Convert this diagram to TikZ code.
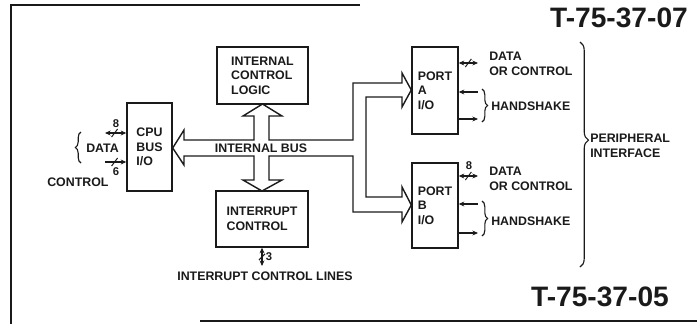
\documentclass[tikz,border=0pt]{standalone}
\usepackage{fontspec}
\setmainfont{Liberation Sans}
\usepackage{tikz}
\usetikzlibrary{arrows.meta, positioning, calc, decorations.pathreplacing}
\definecolor{ink}{HTML}{1A1A1A}
\tikzset{
  blk/.style={rectangle, draw=ink, line width=1pt, align=left, font=\fontsize{8.8}{10.4}\selectfont\bfseries, text=ink, inner sep=0pt},
  lab/.style={font=\fontsize{8.8}{10.6}\selectfont\bfseries, text=ink, align=left, inner sep=0pt},
  num/.style={font=\fontsize{8}{8}\selectfont\bfseries, text=ink, inner sep=0pt},
  tag/.style={font=\fontsize{20}{20}\selectfont\bfseries, text=ink, inner sep=0pt},
  sig/.style={line width=0.8pt, draw=ink, >={Stealth[length=4pt, width=3.5pt]}},
  cut/.style={line width=0.7pt, draw=ink},
  bus/.style={line width=1pt, draw=ink, line join=miter},
  brc/.style={line width=0.8pt, draw=ink, decorate, decoration={brace, amplitude=4pt}},
  frm/.style={line width=1pt, draw=ink},
}

\begin{document}
\begin{tikzpicture}[x=0.025cm, y=-0.025cm]
  \useasboundingbox (0,0) rectangle (697,324);
  % sheet edges
  \draw[frm] (360,5) -- (11,5) -- (11,324);
  \draw[frm] (200,321) -- (697,321);
  \node[tag] (tagtop) at (619,18) {T-75-37-07};
  \node[tag] (tagbot) at (600,297) {T-75-37-05};

  % blocks
  \node[blk, minimum width=1.125cm, minimum height=2.2cm] (cpu) at (149.5,147) {CPU\\BUS\\I/O};
  \node[blk, minimum width=2.275cm, minimum height=1.425cm] (icl) at (262.5,75.5) {INTERNAL\\CONTROL\\LOGIC};
  \node[blk, minimum width=2.3cm, minimum height=1.4cm] (irq) at (262,219) {INTERRUPT\\CONTROL};
  \node[blk, minimum width=1.15cm, minimum height=2.175cm] (porta) at (435,90.5) {PORT\\A\\I/O};
  \node[blk, minimum width=1.15cm, minimum height=2.125cm] (portb) at (435,205.5) {PORT\\B\\I/O};

  % internal bus, hollow arrow
  \draw[bus] (cpu.east |- 0,148) -- (184,130) -- (184,140) -- (254,140) -- (254,116) -- (243,116)
    -- (icl.south |- 0,104) -- (282,116) -- (269,116) -- (269,140) -- (353,140) -- (353,83)
    -- (402,83) -- (402,73) -- (porta.west |- 0,90) -- (402,107) -- (402,97) -- (366,97)
    -- (366,197) -- (402,197) -- (402,187) -- (portb.west |- 0,205) -- (402,222) -- (402,212)
    -- (353,212) -- (353,156) -- (269,156) -- (269,180) -- (282,180) -- (irq.north |- 0,191)
    -- (243,180) -- (254,180) -- (254,156) -- (184,156) -- (184,165) -- cycle;
  \node[lab] (ibus) at (261,148) {INTERNAL BUS};

  % cpu side
  \coordinate (cdat) at (105,133);
  \coordinate (cctl) at (105,162);
  \draw[sig, <->] (cdat) -- (cdat -| cpu.west) coordinate[pos=0.45] (cdatm);
  \draw[cut] ($(cdatm)+(-3,4)$) -- ($(cdatm)+(3,-4)$);
  \node[num] (n8a) at (116,124) {8};
  \draw[sig, ->] (cctl) -- (cctl -| cpu.west) coordinate[pos=0.45] (cctlm);
  \draw[cut] ($(cctlm)+(-3,4)$) -- ($(cctlm)+(3,-4)$);
  \node[num] (n6) at (116,172) {6};
  \coordinate (cbrb) at (81,163);
  \coordinate (cbrt) at (81,132);
  \draw[brc] (cbrb) -- (cbrt);
  \node[lab, anchor=west] (cdatl) at (86,148) {DATA};
  \node[lab, anchor=west] (cctll) at (47,182) {CONTROL};

  % port A side
  \coordinate (adat) at (478,63);
  \coordinate (ahs1) at (478,92);
  \coordinate (ahs2) at (478,119);
  \draw[sig, <->] (porta.east |- adat) -- (adat) coordinate[pos=0.5] (adatm);
  \draw[cut] ($(adatm)+(-3,4)$) -- ($(adatm)+(3,-4)$);
  \draw[sig, <-] (porta.east |- ahs1) -- (ahs1);
  \draw[sig, ->] (porta.east |- ahs2) -- (ahs2);
  \draw[brc] (482,89) coordinate (abrt) -- (482,122) coordinate (abrb);
  \node[lab, anchor=west] (adatl) at (489,64) {DATA\\OR CONTROL};
  \node[lab, anchor=west] (ahsl) at (491,106) {HANDSHAKE};

  % port B side
  \coordinate (bdat) at (478,176);
  \coordinate (bhs1) at (478,204);
  \coordinate (bhs2) at (478,233);
  \draw[sig, <->] (portb.east |- bdat) -- (bdat) coordinate[pos=0.5] (bdatm);
  \draw[cut] ($(bdatm)+(-3,4)$) -- ($(bdatm)+(3,-4)$);
  \node[num] (n8b) at (469,166) {8};
  \draw[sig, <-] (portb.east |- bhs1) -- (bhs1);
  \draw[sig, ->] (portb.east |- bhs2) -- (bhs2);
  \draw[brc] (482,201) coordinate (bbrt) -- (482,236) coordinate (bbrb);
  \node[lab, anchor=west] (bdatl) at (489,178.5) {DATA\\OR CONTROL};
  \node[lab, anchor=west] (bhsl) at (491,221) {HANDSHAKE};

  % peripheral side
  \draw[brc, decoration={brace, amplitude=6pt, aspect=0.436}] (580,42) coordinate (pbrt) -- (580,267) coordinate (pbrb);
  \node[lab, anchor=west] (perl) at (590,146) {PERIPHERAL\\INTERFACE};

  % interrupt lines
  \coordinate (intl) at (262,266);
  \draw[sig, <->] (irq.south) -- (intl) coordinate[pos=0.5] (intm);
  \draw[cut] ($(intm)+(-3,3)$) -- ($(intm)+(3,-3)$);
  \node[num] (n3) at (269,257) {3};
  \node[lab] (intll) at (265,276) {INTERRUPT CONTROL LINES};
\end{tikzpicture}
\end{document}
